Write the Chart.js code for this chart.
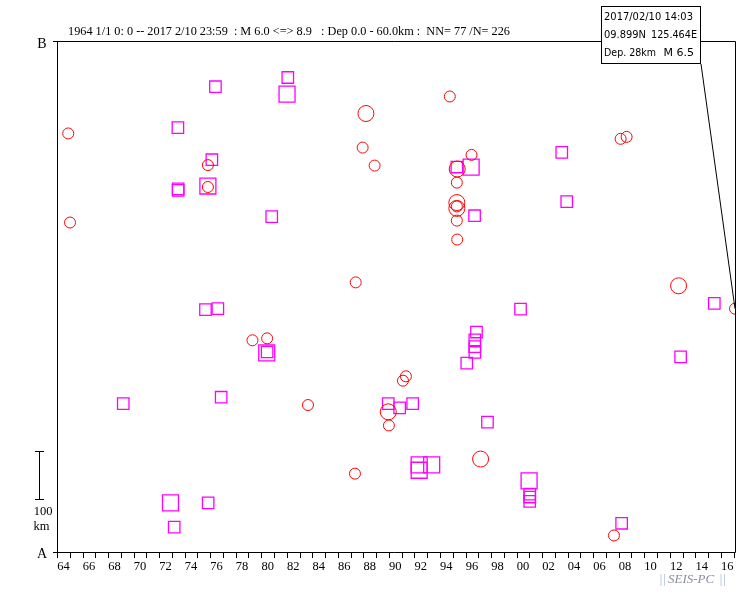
<!DOCTYPE html>
<html>
<head>
<meta charset="utf-8">
<script src="https://cdn.jsdelivr.net/npm/chart.js@4.4.1/dist/chart.umd.min.js"></script>
<style>
  html, body { margin: 0; padding: 0; background: #fff; overflow: hidden; }
  #seisChart { display: block; }
</style>
</head>
<body>
<canvas id="seisChart" width="751" height="593"></canvas>
<script>
// events drawn as circles (shallow) : decimal year, distance from A along A-B (km), magnitude
const circleYear = [1964.88, 1965.02, 1975.82, 1975.82, 1987.40, 1979.31, 1980.46, 1991.10, 1991.33, 1983.66,
  1989.95, 1990.00, 1987.34, 1997.18, 1994.77, 1988.20, 1987.94, 1988.88, 1996.47, 1995.35,
  1995.32, 1995.32, 1995.32, 1995.32, 1995.32, 1995.35, 2008.15, 2008.62, 2012.69, 2017.11, 2007.63];
const circleKm = [860, 677, 795, 750, 554, 435, 439, 352, 361, 302,
  288, 260, 161, 191, 936, 901, 831, 794, 816, 787,
  759, 718, 706, 710, 681, 642, 849, 853, 547, 500, 34];
const circleMag = [6.4, 6.4, 6.4, 6.4, 6.4, 6.4, 6.4, 6.4, 6.4, 6.4,
  7.1, 6.4, 6.4, 7.1, 6.4, 7.1, 6.4, 6.4, 6.4, 7.1,
  6.4, 7.1, 7.1, 6.4, 6.4, 6.4, 6.4, 6.4, 7.1, 6.5, 6.4];

// events drawn as squares (deeper)
const squareYear = [1973.47, 1976.13, 1973.49, 1973.49, 1975.82, 1975.63, 1976.60, 1969.19, 1976.86, 1972.89,
  1975.84, 1973.18, 1976.41, 1982.08, 1982.02, 1980.82, 1980.43, 1980.46, 1989.95, 1990.84,
  1991.86, 1992.37, 1992.37, 1993.35, 2000.98, 2001.03, 2001.03, 2001.03, 1995.32, 1996.44,
  1996.71, 1996.86, 1996.73, 1996.73, 1996.73, 1996.10, 1997.72, 2003.54, 2003.93, 2000.31,
  2015.49, 2012.85, 2008.23];
const squareKm = [872, 806, 746, 743, 752, 498, 500, 305, 318, 101,
  101, 51, 956, 975, 941, 689, 409, 411, 305, 296,
  305, 179, 168, 179, 146, 119, 113, 104, 791, 791,
  691, 452, 436, 422, 410, 388, 267, 821, 720, 499,
  511, 401, 59];
const squareMag = [6.4, 6.4, 6.4, 6.4, 7.1, 6.4, 6.4, 6.4, 6.4, 7.1,
  6.4, 6.4, 6.4, 6.4, 7.1, 6.4, 7.1, 6.4, 6.4, 6.4,
  6.4, 7.1, 7.1, 7.1, 7.1, 6.4, 6.4, 6.4, 6.4, 7.1,
  6.4, 6.4, 6.4, 6.4, 6.4, 6.4, 6.4, 6.4, 6.4, 6.4,
  6.4, 6.4, 6.4];

// x axis: a tick every year, a label every two years
const tickYears = [];
for (let y = 1964; y <= 2017; y++) tickYears.push(y);
const labelYears = [1964, 1966, 1968, 1970, 1972, 1974, 1976, 1978, 1980, 1982, 1984, 1986, 1988, 1990,
  1992, 1994, 1996, 1998, 2000, 2002, 2004, 2006, 2008, 2010, 2012, 2014, 2016];
const tickLabels = ['64', '66', '68', '70', '72', '74', '76', '78', '80', '82', '84', '86', '88', '90',
  '92', '94', '96', '98', '00', '02', '04', '06', '08', '10', '12', '14', '16'];

const titleText = '1964 1/1 0: 0 -- 2017 2/10 23:59  : M 6.0 <=> 8.9   : Dep 0.0 - 60.0km :  NN= 77 /N= 226';
const infoLines = ['2017/02/10 14:03', ['09.899N', '125.464E'], ['Dep. 28km', 'M 6.5']];
const xMin = 1964, xMax = 2017.11, kmMax = 1050;

const toPoints = (xs, ys) => xs.map((x, i) => ({ x: x, y: ys[i] }));
const circleR = circleMag.map(m => m >= 7 ? 8 : 5.5);
const squareR = squareMag.map(m => m >= 7 ? 11.3 : 8.1);
// the latest event gets the info box
const latestIdx = circleYear.indexOf(Math.max(...circleYear));

const frame = {
  id: 'frame',
  beforeDatasetsDraw(chart) {
    const ctx = chart.ctx;
    const a = chart.chartArea;
    const xs = chart.scales.x, ys = chart.scales.y;
    ctx.save();
    ctx.strokeStyle = '#000';
    ctx.lineWidth = 1;
    ctx.beginPath();
    ctx.moveTo(53, Math.round(a.bottom) + 0.5);
    ctx.lineTo(Math.round(a.right) + 0.5, Math.round(a.bottom) + 0.5);
    ctx.lineTo(Math.round(a.right) + 0.5, Math.round(a.top) + 0.5);
    ctx.lineTo(53, Math.round(a.top) + 0.5);
    ctx.moveTo(Math.round(a.left) + 0.5, Math.round(a.top));
    ctx.lineTo(Math.round(a.left) + 0.5, Math.round(a.bottom) + 1);
    // year ticks
    tickYears.forEach(yr => {
      const px = Math.round(xs.getPixelForValue(yr)) + 0.5;
      ctx.moveTo(px, a.bottom);
      ctx.lineTo(px, a.bottom + 6);
    });
    // 100 km scale bar
    const b1 = Math.round(ys.getPixelForValue(108)) + 0.5;
    const b2 = Math.round(ys.getPixelForValue(208)) + 0.5;
    ctx.moveTo(39.5, b1); ctx.lineTo(39.5, b2);
    ctx.moveTo(35, b1); ctx.lineTo(44, b1);
    ctx.moveTo(35, b2); ctx.lineTo(44, b2);
    ctx.stroke();

    ctx.fillStyle = '#000';
    ctx.font = '12.5px "Liberation Serif"';
    ctx.textAlign = 'center';
    ctx.textBaseline = 'middle';
    labelYears.forEach((yr, i) => {
      ctx.fillText(tickLabels[i], xs.getPixelForValue(yr + 0.5), 567);
    });
    ctx.fillText('100', 43, 512);
    ctx.fillText('km', 41.5, 527);
    ctx.font = '14px "Liberation Serif"';
    ctx.fillText('A', 42, 554);
    ctx.fillText('B', 42, 44);
    ctx.textAlign = 'left';
    ctx.font = '12.5px "Liberation Serif"';
    ctx.fillText(titleText, 68, 32, 442);
    ctx.restore();
  },
  afterDraw(chart) {
    const ctx = chart.ctx;
    const last = chart.getDatasetMeta(0).data[latestIdx];
    ctx.save();
    ctx.strokeStyle = '#000';
    ctx.lineWidth = 1;
    ctx.beginPath();
    ctx.moveTo(701, 64);
    ctx.lineTo(last.x, last.y);
    ctx.stroke();
    // info box
    ctx.fillStyle = '#fff';
    ctx.fillRect(601, 6, 99, 58);
    ctx.strokeRect(601.5, 6.5, 99, 57);
    ctx.fillStyle = '#000';
    ctx.font = '11px "DejaVu Sans"';
    ctx.textBaseline = 'middle';
    ctx.textAlign = 'left';
    ctx.fillText(infoLines[0], 604, 17, 89);
    ctx.fillText(infoLines[1][0], 604, 35, 42);
    ctx.fillText(infoLines[2][0], 604, 53, 52);
    ctx.textAlign = 'right';
    ctx.fillText(infoLines[1][1], 697, 35, 46);
    ctx.fillText(infoLines[2][1], 694, 53, 32);
    // watermark
    ctx.textAlign = 'left';
    ctx.font = 'italic 13px "Liberation Serif"';
    ctx.fillStyle = '#a8b8d8';
    ctx.fillText('||', 659, 580);
    ctx.fillText('||', 719, 580);
    ctx.fillStyle = '#8a8ea0';
    ctx.fillText('SEIS-PC', 668, 580, 49);
    ctx.restore();
  }
};

const seisChart = new Chart(document.getElementById('seisChart'), {
  type: 'scatter',
  data: {
    datasets: [{
      label: 'Dep 0-30km',
      data: toPoints(circleYear, circleKm),
      pointStyle: 'circle',
      pointRadius: circleR,
      borderColor: '#ff0000',
      backgroundColor: 'rgba(0,0,0,0)',
      borderWidth: 1
    }, {
      label: 'Dep 30-60km',
      data: toPoints(squareYear, squareKm),
      pointStyle: 'rect',
      pointRadius: squareR,
      borderColor: '#ff00ff',
      backgroundColor: 'rgba(0,0,0,0)',
      borderWidth: 1.3
    }]
  },
  options: {
    responsive: false,
    animation: false,
    devicePixelRatio: 1,
    layout: { padding: { left: 57, right: 16, top: 41, bottom: 41 } },
    scales: {
      x: { type: 'linear', min: xMin, max: xMax, display: false },
      y: { type: 'linear', min: 0, max: kmMax, display: false }
    },
    plugins: {
      legend: { display: false },
      tooltip: { enabled: false }
    }
  },
  plugins: [frame]
});
</script>
</body>
</html>
